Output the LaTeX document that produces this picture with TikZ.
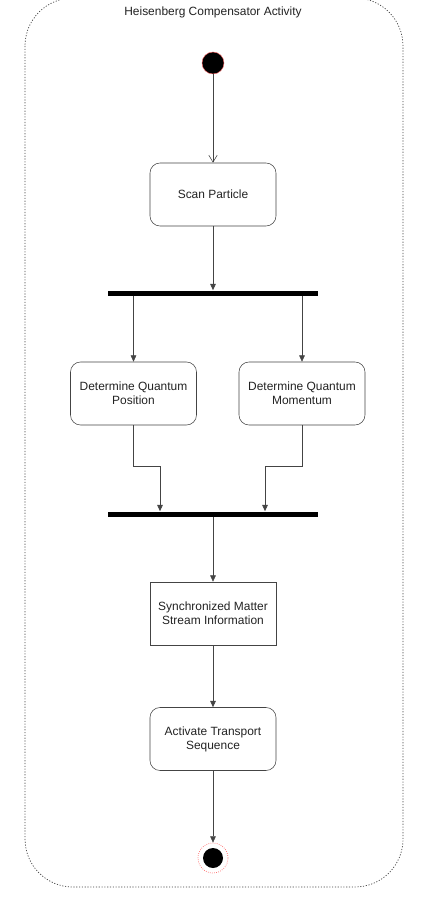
\documentclass[tikz,border=0pt]{standalone}
\usepackage{fontspec}
\setmainfont{Liberation Sans}
\usetikzlibrary{arrows.meta,positioning}
\definecolor{edgegray}{HTML}{444444}
\definecolor{textgray}{HTML}{222222}
\begin{document}
\begin{tikzpicture}
[action/.style={draw=edgegray,rounded corners=2.5mm,minimum width=3.15cm,minimum height=1.575cm,align=center,text=textgray},
plainaction/.style={action,rounded corners=0mm},
bar/.style={fill=black,minimum width=5.25cm,minimum height=1.25mm,inner sep=0pt},
flow/.style={draw=edgegray,-{Triangle[width=4pt,length=4.5pt]}}
]
\tikzset{every node/.style={font=\fontsize{8.5}{10}\selectfont}}
\useasboundingbox (0,0) rectangle (10.675,-22.55);
% container
\draw[black!75,dash pattern=on 0.8pt off 1.2pt,line width=0.5pt,rounded corners=1.2cm] (0.625,0.05) rectangle (10.075,-22.175);
\node[text=textgray] (title) at (5.325,-0.3) {Heisenberg Compensator Activity};
% start and end
\node[circle,fill=black,draw=red!60,line width=0.3pt,minimum size=5.5mm,inner sep=0pt] (start) at (5.325,-1.575) {};
\node[circle,fill=black,minimum size=5mm,inner sep=0pt] (stop) at (5.325,-21.45) {};
\node[circle,draw=red!60,densely dotted,line width=0.5pt,minimum size=7.5mm,inner sep=0pt] (stopRing) at (stop) {};
% actions
\node[action] (scan) at (5.325,-4.8625) {Scan Particle};
\node[bar] (fork) at (5.325,-7.325) {};
\node[action] (posBox) at (3.3375,-9.8375) {Determine Quantum\\Position};
\node[action] (momBox) at (7.55,-9.8375) {Determine Quantum\\Momentum};
\node[bar] (join) at (5.325,-12.85) {};
\node[plainaction] (sync) at (5.325,-15.3375) {Synchronized Matter\\Stream Information};
\node[action] (transport) at (5.325,-18.475) {Activate Transport\\Sequence};
% flows
\draw[draw=edgegray,-{Straight Barb[width=6pt,length=5pt]}] (start) -- (scan);
\draw[flow] (scan) -- (fork);
\draw[flow] (posBox.north |- fork.south) -- (posBox);
\draw[flow] (momBox.north |- fork.south) -- (momBox);
\draw[flow] (posBox.south) -- ++(0,-1.025) -| ([xshift=-1.325cm]join.north);
\draw[flow] (momBox.south) -- ++(0,-1.025) -| ([xshift=1.3cm]join.north);
\draw[flow] (join) -- (sync);
\draw[flow] (sync) -- (transport);
\draw[flow] (transport) -- (stopRing);
\end{tikzpicture}
\end{document}
